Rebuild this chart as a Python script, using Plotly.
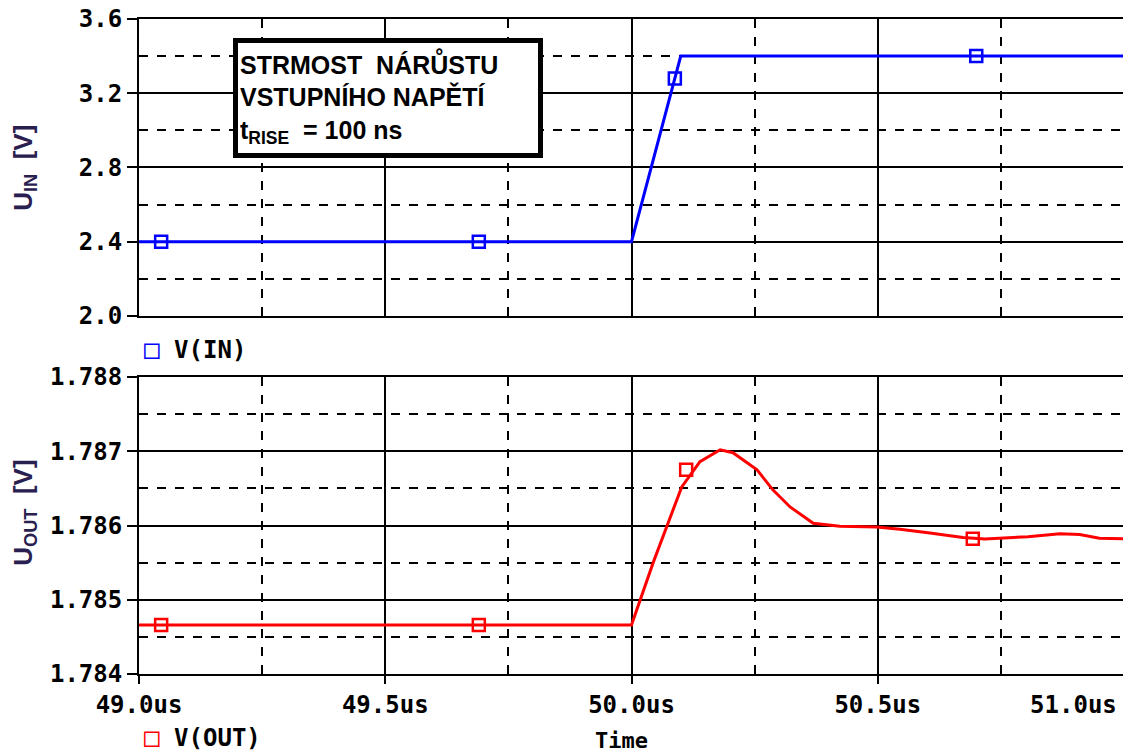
import plotly.graph_objects as go

# input voltage trace (us, V)
t_in = [49.0, 50.0, 50.1, 51.0]
v_in = [2.4, 2.4, 3.4, 3.4]
t_in_marks = [49.045, 49.69, 50.088, 50.70]
v_in_marks = [2.4, 2.4, 3.28, 3.4]

# output voltage trace (us, V)
t_out = [49.0, 50.0, 50.044, 50.072, 50.102, 50.139, 50.18, 50.206, 50.255, 50.287,
         50.322, 50.369, 50.423, 50.498, 50.545, 50.606, 50.673, 50.718, 50.805,
         50.87, 50.91, 50.95, 51.0]
v_out = [1.78466, 1.78466, 1.78550, 1.78598, 1.78652, 1.78686, 1.78702, 1.78698,
         1.78675, 1.78648, 1.78625, 1.78603, 1.78599, 1.78598, 1.78595, 1.78590,
         1.78584, 1.78582, 1.78585, 1.78589, 1.78588, 1.78583, 1.78582]
t_out_marks = [49.045, 49.69, 50.111, 50.693]
v_out_marks = [1.78466, 1.78466, 1.78675, 1.78582]

x_ticks = [49.0, 49.5, 50.0, 50.5, 51.0]
x_tick_labels = ["49.0us", "49.5us", "50.0us", "50.5us", "51.0us"]

BLUE = "#0000ff"
RED = "#ff0000"
MONO = "DejaVu Sans Mono"
SANS = "Liberation Sans, Arial"

# last label sits inside the plot like in PSpice
tick_text = x_tick_labels[:-1] + [x_tick_labels[-1] + "\u00a0" * 7]

fig = go.Figure()
fig.add_trace(go.Scatter(x=t_in, y=v_in, mode="lines", line=dict(color=BLUE, width=3),
                         xaxis="x", yaxis="y", showlegend=False))
fig.add_trace(go.Scatter(x=t_in_marks, y=v_in_marks, mode="markers",
                         marker=dict(symbol="square-open", size=12, color=BLUE, line=dict(width=2.5)),
                         xaxis="x", yaxis="y", showlegend=False))
fig.add_trace(go.Scatter(x=t_out, y=v_out, mode="lines", line=dict(color=RED, width=3),
                         xaxis="x2", yaxis="y2", showlegend=False))
fig.add_trace(go.Scatter(x=t_out_marks, y=v_out_marks, mode="markers",
                         marker=dict(symbol="square-open", size=12, color=RED, line=dict(width=2.5)),
                         xaxis="x2", yaxis="y2", showlegend=False))

axis_common = dict(
    showline=True, mirror=True, linecolor="black", linewidth=2,
    showgrid=True, gridcolor="black", gridwidth=1.5,
    zeroline=False, automargin=False, ticklabeloverflow="allow",
    tickfont=dict(family=MONO, size=24, color="black", weight="bold"),
)

# page body has an 8px margin, so the figure is sized to fit the window
fig.update_layout(
    template="none",
    width=1123, height=745,
    paper_bgcolor="white", plot_bgcolor="white",
    margin=dict(l=131, r=7, t=11, b=79),
    xaxis=dict(axis_common, range=[49.0, 51.0], anchor="y", showticklabels=False,
               tickvals=x_ticks, ticks="",
               minor=dict(dtick=0.25, tick0=49.0, showgrid=True, griddash="dash",
                          gridcolor="black", gridwidth=1.5)),
    xaxis2=dict(axis_common, range=[49.0, 51.0], anchor="y2", matches="x",
                tickvals=x_ticks, ticktext=tick_text, ticks="outside", ticklen=8,
                tickwidth=2, tickcolor="black",
                minor=dict(dtick=0.25, tick0=49.0, showgrid=True, griddash="dash",
                           gridcolor="black", gridwidth=1.5)),
    yaxis=dict(axis_common, range=[2.0, 3.6], domain=[0.5466, 1.0], anchor="x",
               dtick=0.4, tick0=2.0, tickformat=".1f", ticks="outside", ticklen=10,
               tickwidth=2, tickcolor="black",
               minor=dict(dtick=0.2, tick0=2.0, showgrid=True, griddash="dash",
                          gridcolor="black", gridwidth=1.5)),
    yaxis2=dict(axis_common, range=[1.784, 1.788], domain=[0.0, 0.4534], anchor="x2",
                dtick=0.001, tick0=1.784, tickformat=".3f", ticks="outside", ticklen=10,
                tickwidth=2, tickcolor="black",
                minor=dict(dtick=0.0005, tick0=1.784, showgrid=True, griddash="dash",
                           gridcolor="black", gridwidth=1.5)),
)

title_color = "#2a2050"
fig.add_annotation(text="U<sub>IN</sub>  [V]", xref="paper", yref="paper", x=-0.117, y=0.7725,
                   textangle=-90, showarrow=False, xanchor="center", yanchor="middle",
                   font=dict(family=SANS, size=26, color=title_color, weight="bold"))
fig.add_annotation(text="U<sub>OUT</sub>  [V]", xref="paper", yref="paper", x=-0.117, y=0.2458,
                   textangle=-90, showarrow=False, xanchor="center", yanchor="middle",
                   font=dict(family=SANS, size=26, color=title_color, weight="bold"))

fig.add_annotation(text="Time", xref="x2", yref="paper", x=49.98, y=-0.101,
                   showarrow=False, xanchor="center", yanchor="middle",
                   font=dict(family=MONO, size=22, color="black", weight="bold"))

fig.add_annotation(text='<span style="color:%s;font-size:26px">\u25a1</span> V(IN)' % BLUE,
                   xref="paper", yref="paper", x=0.003, y=0.496, showarrow=False,
                   xanchor="left", yanchor="middle",
                   font=dict(family=MONO, size=24, color="black", weight="bold"))
fig.add_annotation(text='<span style="color:%s;font-size:26px">\u25a1</span> V(OUT)' % RED,
                   xref="paper", yref="paper", x=0.003, y=-0.096, showarrow=False,
                   xanchor="left", yanchor="middle",
                   font=dict(family=MONO, size=24, color="black", weight="bold"))

fig.add_annotation(text="STRMOST  NÁRŮSTU<br>VSTUPNÍHO NAPĚTÍ<br>t<sub>RISE</sub>  = 100 ns",
                   xref="paper", yref="paper", x=0.0954, y=0.971, showarrow=False,
                   xanchor="left", yanchor="top", align="left",
                   width=296, height=106, borderpad=2,
                   bgcolor="white", bordercolor="black", borderwidth=5,
                   font=dict(family=SANS, size=25, color="black", weight="bold"))

fig.write_html("out.html")
